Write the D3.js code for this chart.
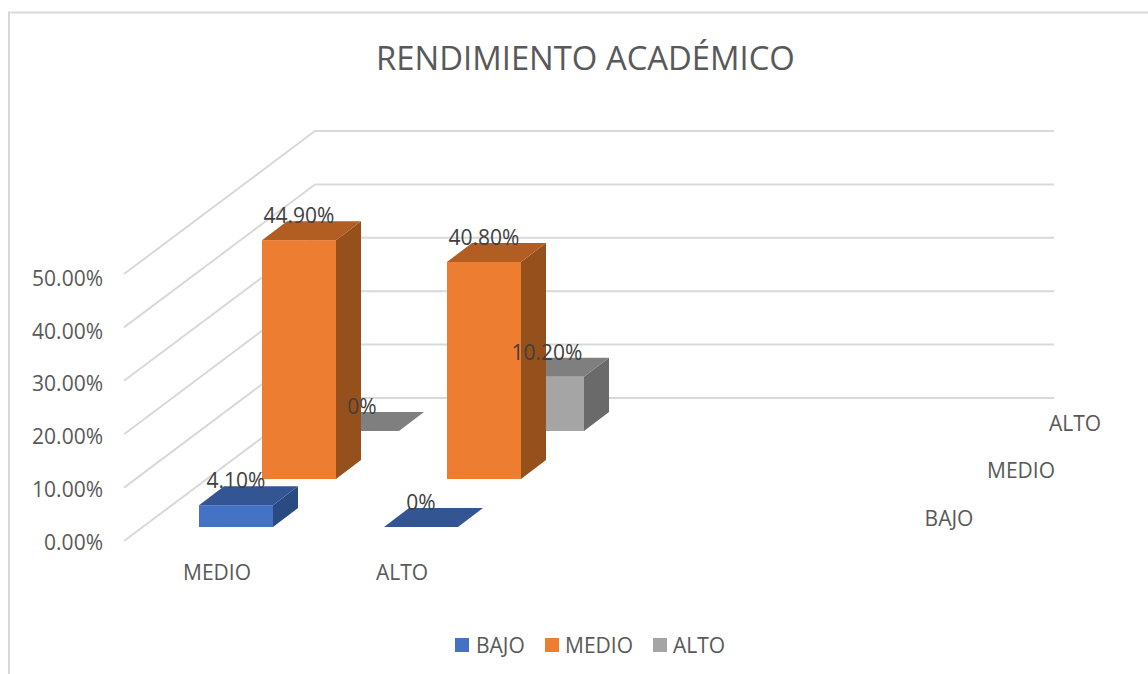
<!DOCTYPE html>
<html><head><meta charset="utf-8">
<script src="https://cdn.jsdelivr.net/npm/d3@7"></script>
<style>html,body{margin:0;background:#fff}svg{display:block}text{font-family:"Open Sans",sans-serif;fill:#595959}</style>
</head><body><svg id="c" width="1148" height="674"></svg>
<script>
const categories = ["MEDIO", "ALTO"];
const seriesNames = ["BAJO", "MEDIO", "ALTO"];
const BAJO = [4.1, 0];
const MEDIO = [44.9, 40.8];
const ALTO = [0, 10.2];
const labelsBajo = ["4.10%", "0%"];
const labelsMedio = ["44.90%", "40.80%"];
const labelsAlto = ["0%", "10.20%"];
const yTicks = [0, 10, 20, 30, 40, 50];
const colors = {BAJO:["#4472c4","#335593","#2a4a82"],MEDIO:["#ed7d31","#b25d21","#95501b"],ALTO:["#a5a5a5","#7f7f7f","#6a6a6a"]};

const svg = d3.select("#c");
const y = d3.scaleLinear().domain([0,50]).range([0,-267]);
const yBar = d3.scaleLinear().domain([0,50]).range([0,-266]);
const yLabel = d3.scaleLinear().domain([0,50]).range([542,278.5]);
const x = d3.scaleLinear().domain([0,1]).range([199,384]);
const dp = s => [63*s, -48*s];
const base = 527, bw = 74, dx = 25, dy = -19;
const wallL = [124,541], wallB = [315,398], wallR = 1054;
const fs = 21;

svg.append("path").attr("d","M9,674V12.5H1148").attr("fill","none").attr("stroke","#d9d9d9").attr("stroke-width",2);
svg.append("text").attr("x",585.5).attr("y",70).attr("text-anchor","middle").attr("font-size",32.8).text("RENDIMIENTO ACADÉMICO");

yTicks.forEach(t=>{
  const o = y(t);
  svg.append("path").attr("d",d3.line()([[wallL[0],wallL[1]+o],[wallB[0],wallB[1]+o],[wallR,wallB[1]+o]]))
    .attr("fill","none").attr("stroke","#d9d9d9").attr("stroke-width",2);
  svg.append("text").attr("x",103).attr("y",yLabel(t)+7.5).attr("text-anchor","end").attr("font-size",fs).text(d3.format(".2f")(t)+"%");
});

const vals = {BAJO,MEDIO,ALTO}, labs = {BAJO:labelsBajo,MEDIO:labelsMedio,ALTO:labelsAlto};
const order = [2,1,0];
const line = d3.line();
order.forEach(s=>{
  const name = seriesNames[s], [ox,oy] = dp(s), col = colors[name];
  categories.forEach((c,i)=>{
    const v = vals[name][i], l = x(i)+ox, r = l+bw, b = base+oy, t = b+yBar(v);
    const g = svg.append("g");
    g.append("path").attr("d",line([[r,b],[r+dx,b+dy],[r+dx,t+dy],[r,t]])+"Z").attr("fill",col[2]);
    g.append("path").attr("d",line([[l,t],[l+dx,t+dy],[r+dx,t+dy],[r,t]])+"Z").attr("fill",col[1]);
    g.append("rect").attr("x",l).attr("y",t).attr("width",bw).attr("height",b-t).attr("fill",col[0]);
  });
});
order.forEach(s=>{
  const name = seriesNames[s], [ox,oy] = dp(s);
  categories.forEach((c,i)=>{
    const t = base+oy+yBar(vals[name][i]);
    svg.append("text").attr("x",x(i)+ox+37).attr("y",t-17).attr("text-anchor","middle").attr("font-size",fs).style("fill","#404040").text(labs[name][i]);
  });
});
categories.forEach((c,i)=>svg.append("text").attr("x",x(i)+18).attr("y",580).attr("text-anchor","middle").attr("font-size",fs).text(c));
[[949,526],[1021,478],[1075,431]].forEach((p,i)=>svg.append("text").attr("x",p[0]).attr("y",p[1]).attr("text-anchor","middle").attr("font-size",fs).text(seriesNames[i]));

const lx = [455,545,653], tx = [476,565,673];
seriesNames.forEach((n,i)=>{
  svg.append("rect").attr("x",lx[i]).attr("y",638).attr("width",14).attr("height",14).attr("fill",colors[n][0]);
  svg.append("text").attr("x",tx[i]).attr("y",653).attr("font-size",fs).text(n);
});
</script></body></html>
